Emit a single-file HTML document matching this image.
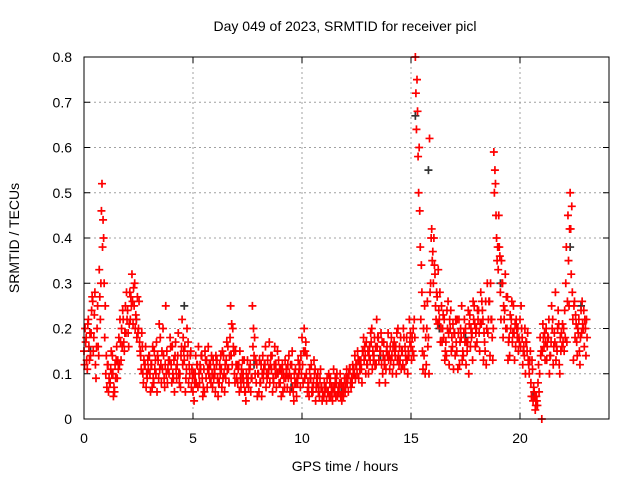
<!DOCTYPE html>
<html><head><meta charset="utf-8"><style>
body{margin:0;background:#fff;}
svg{display:block;font-family:"Liberation Sans",sans-serif;}
</style></head><body>
<svg id="chart" width="640" height="480" viewBox="0 0 640 480">
<rect width="640" height="480" fill="#fff"/>
<text x="345" y="31" font-size="14" text-anchor="middle">Day 049 of 2023, SRMTID for receiver picl</text>
<g id="grid"></g>
<g id="ticks"></g>
<g id="marks"></g>
<rect x="84" y="57" width="525" height="362" fill="none" stroke="#000" stroke-width="1"/>
<text x="345" y="471" font-size="14" text-anchor="middle">GPS time / hours</text>
<text x="19" y="238" font-size="14" text-anchor="middle" transform="rotate(-90 19 238)">SRMTID / TECUs</text>
</svg>
<script>
const xTicks=[0,5,10,15,20];
const yTicks=[0,0.1,0.2,0.3,0.4,0.5,0.6,0.7,0.8];
const yTickLabels=["0","0.1","0.2","0.3","0.4","0.5","0.6","0.7","0.8"];
const startHour=0, stepHour=0.1;
const redA=[.15,.18,.22,.14,.26,.28,.20,.33,.46,.40,.10,.12,.08,.14,.06,.16,.18,.13,.22,.25,.24,.28,.32,.25,.22,.20,.14,.10,.12,.09,.14,.12,.08,.10,.13,.18,.11,.07,.15,.10,.12,.09,.17,.14,.10,.22,.13,.11,.08,.15,.06,.10,.12,.08,.14,.11,.09,.16,.12,.07,.10,.13,.08,.11,.14,.09,.16,.18,.12,.10,.09,.12,.07,.10,.06,.13,.11,.09,.14,.08,.10,.08,.14,.12,.09,.17,.11,.08,.12,.10,.08,.12,.07,.10,.14,.09,.06,.11,.08,.12,.18,.20,.10,.07,.09,.06,.11,.08,.05,.07,.05,.07,.06,.09,.04,.07,.10,.06,.08,.05,.07,.09,.11,.08,.10,.12,.09,.13,.15,.14,.12,.16,.20,.14,.12,.18,.15,.10,.13,.16,.14,.18,.12,.16,.20,.13,.15,.11,.18,.14,.16,.20,.80,.68,.46,.28,.14,.12,.18,.30,.37,.32,.27,.22,.25,.18,.17,.26,.20,.16,.19,.15,.22,.18,.14,.20,.17,.23,.19,.25,.20,.24,.28,.22,.15,.30,.26,.22,.59,.45,.33,.28,.30,.24,.20,.18,.22,.25,.16,.20,.22,.18,.14,.17,.12,.08,.04,.02,.03,.10,.00,.16,.20,.18,.14,.22,.17,.15,.12,.19,.20,.30,.45,.50,.28,.26,.17,.22,.24,.20,.20];
const redB=[.12,.13,.16,.19,.15,.12,.25,.27,.52,.30,.14,.06,.11,.10,.12,.09,.12,.20,.17,.19,.19,.22,.26,.30,.18,.26,.11,.08,.16,.13,.10,.07,.15,.17,.09,.12,.20,.12,.08,.13,.08,.13,.11,.19,.07,.12,.16,.20,.12,.07,.10,.14,.07,.12,.09,.06,.13,.10,.08,.13,.06,.09,.12,.07,.10,.13,.11,.25,.20,.08,.12,.06,.11,.08,.04,.09,.12,.25,.18,.12,.06,.12,.09,.16,.13,.08,.14,.12,.07,.13,.11,.06,.13,.07,.10,.12,.04,.08,.13,.07,.12,.09,.14,.05,.12,.08,.04,.10,.09,.04,.08,.04,.10,.05,.07,.09,.05,.08,.04,.07,.09,.06,.08,.12,.14,.10,.13,.11,.18,.10,.15,.13,.11,.18,.22,.13,.19,.14,.08,.14,.11,.14,.17,.10,.14,.18,.12,.16,.13,.22,.13,.14,.72,.58,.38,.15,.25,.20,.10,.40,.30,.25,.21,.28,.17,.22,.14,.19,.24,.21,.14,.22,.12,.25,.19,.12,.24,.16,.13,.21,.17,.19,.21,.13,.26,.19,.14,.18,.50,.40,.45,.22,.18,.32,.27,.14,.26,.19,.22,.15,.16,.12,.20,.15,.10,.05,.07,.03,.08,.18,.15,.19,.13,.22,.17,.12,.28,.20,.10,.16,.15,.38,.35,.42,.22,.18,.14,.15,.19,.24,.14];
const redC=[.20,.11,.13,.24,.18,.09,.16,.22,.38,.18,.07,.09,.15,.05,.09,.13,.22,.16,.15,.28,.16,.27,.21,.20,.27,.17,.19,.13,.07,.11,.06,.16,.11,.06,.21,.08,.14,.25,.11,.18,.16,.06,.09,.10,.14,.18,.06,.14,.10,.11,.04,.08,.16,.11,.05,.15,.07,.12,.14,.09,.14,.05,.10,.15,.06,.17,.08,.14,.16,.15,.08,.15,.09,.13,.10,.07,.06,.16,.10,.05,.13,.05,.11,.07,.10,.12,.06,.16,.10,.08,.05,.10,.09,.12,.06,.15,.10,.05,.10,.14,.08,.15,.06,.11,.06,.13,.07,.06,.11,.06,.06,.09,.05,.07,.11,.05,.06,.10,.06,.09,.11,.10,.07,.10,.09,.15,.11,.08,.13,.17,.10,.19,.15,.12,.16,.08,.12,.17,.11,.19,.16,.10,.15,.19,.12,.11,.20,.14,.10,.17,.18,.22,.64,.50,.22,.11,.10,.26,.62,.42,.40,.22,.33,.17,.20,.13,.24,.12,.15,.11,.22,.11,.17,.13,.22,.17,.10,.20,.26,.16,.24,.15,.26,.19,.12,.22,.30,.13,.55,.35,.38,.35,.25,.20,.13,.23,.17,.13,.20,.18,.25,.15,.10,.19,.13,.13,.06,.05,.12,.14,.21,.13,.16,.10,.25,.16,.13,.24,.18,.21,.24,.17,.25,.32,.13,.23,.20,.12,.26,.16,.22];
const redD=[.17,.21,.19,.27,.23,.16,.14,.30,.44,.25,.12,.08,.10,.07,.13,.11,.17,.24,.19,.22,.21,.25,.29,.23,.19,.15,.16,.12,.10,.14,.12,.09,.13,.14,.11,.15,.09,.10,.13,.16,.10,.14,.12,.08,.16,.15,.09,.17,.14,.09,.08,.12,.10,.14,.07,.13,.11,.09,.10,.11,.12,.08,.14,.09,.12,.11,.14,.21,.15,.12,.11,.09,.13,.06,.08,.11,.09,.20,.13,.10,.08,.10,.12,.10,.11,.14,.09,.10,.15,.11,.10,.09,.11,.09,.12,.07,.08,.09,.11,.10,.15,.17,.08,.09,.07,.10,.09,.07,.07,.05,.07,.06,.08,.06,.06,.08,.07,.05,.07,.06,.08,.11,.09,.11,.12,.13,.12,.15,.16,.12,.14,.17,.13,.16,.18,.15,.17,.12,.15,.13,.13,.16,.14,.13,.16,.15,.18,.13,.15,.19,.15,.18,.75,.60,.34,.20,.18,.16,.28,.35,.34,.28,.24,.20,.23,.15,.20,.22,.18,.19,.17,.19,.20,.15,.17,.15,.21,.18,.22,.19,.22,.21,.24,.17,.20,.26,.22,.20,.52,.38,.36,.30,.22,.27,.17,.20,.19,.21,.18,.17,.20,.16,.17,.13,.15,.11,.05,.04,.06,.15,.18,.17,.18,.14,.20,.19,.16,.21,.15,.17,.18,.26,.42,.47,.25,.21,.19,.18,.21,.22,.18];
const blackHours=[0.3,1.2,2.4,4.6,7.8,9.5,11.8,13.6,15.2,15.8,16.3,17.5,19.1,20.6,22.3,22.8];
const blackValues=[0.15,0.08,0.22,0.25,0.12,0.07,0.06,0.14,0.67,0.55,0.20,0.18,0.30,0.05,0.38,0.25];

const X0=84,PX_PER_HOUR=21.8,Y0=419,PX_PER_UNIT=452.5;
const xs=h=>X0+h*PX_PER_HOUR;
const ys=v=>Y0-v*PX_PER_UNIT;
const NS="http://www.w3.org/2000/svg";
const grid=document.getElementById('grid'),ticks=document.getElementById('ticks'),marks=document.getElementById('marks');
function mk(tag,attrs,parent){const e=document.createElementNS(NS,tag);for(const k in attrs)e.setAttribute(k,attrs[k]);parent.appendChild(e);return e;}
xTicks.forEach(t=>{
  const x=xs(t);
  if(t>0){const g=mk('line',{x1:x,x2:x,y1:57,y2:419,stroke:'#a0a0a0','stroke-dasharray':'2,3'},grid);
  
  }
  mk('line',{x1:x,x2:x,y1:419,y2:413,stroke:'#000'},ticks);
  mk('line',{x1:x,x2:x,y1:57,y2:63,stroke:'#000'},ticks);
  const l=mk('text',{x:x,y:443,'font-size':14,'text-anchor':'middle'},ticks);
  l.textContent=String(t);
  
  
});
yTicks.forEach((t,i)=>{
  const y=ys(t);
  if(i>0&&i<yTicks.length-1){const g=mk('line',{x1:84,x2:609,y1:y,y2:y,stroke:'#a0a0a0','stroke-dasharray':'2,3'},grid);
  
  }
  mk('line',{x1:84,x2:90,y1:y,y2:y,stroke:'#000'},ticks);
  mk('line',{x1:603,x2:609,y1:y,y2:y,stroke:'#000'},ticks);
  const l=mk('text',{x:72,y:y+5,'font-size':14,'text-anchor':'end'},ticks);
  l.textContent=yTickLabels[i];
  
  
});
function plus(h,v,color){
  const x=xs(h),y=ys(v);
  const p=mk('path',{d:`M${x-4},${y}H${x+4}M${x},${y-4}V${y+4}`,stroke:color,'stroke-width':1.7,fill:'none'},marks);
  
  
}
blackHours.forEach((h,i)=>plus(h,blackValues[i],'#333'));
[[redA,0],[redB,0.025],[redC,0.05],[redD,0.075]].forEach(([arr,off])=>{
  arr.forEach((v,i)=>plus(startHour+i*stepHour+off,v,'#ff0000'));
});
</script>
</body></html>
